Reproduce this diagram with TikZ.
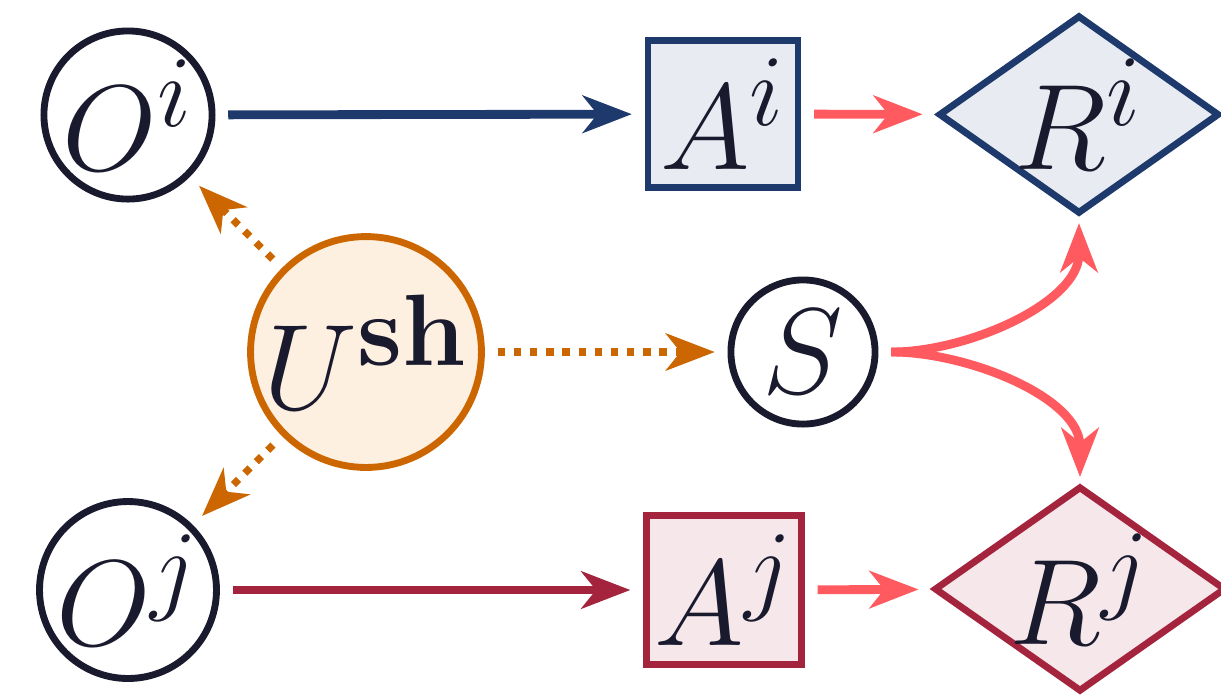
\documentclass[tikz,border=0pt]{standalone}
\usetikzlibrary{arrows.meta,shapes.geometric}

\definecolor{ink}{RGB}{26,26,46}
\definecolor{navy}{RGB}{30,58,108}
\definecolor{navyfill}{RGB}{232,236,242}
\definecolor{crimson}{RGB}{164,35,61}
\definecolor{crimsonfill}{RGB}{245,231,234}
\definecolor{coral}{RGB}{255,90,95}
\definecolor{amber}{RGB}{204,102,0}
\definecolor{amberfill}{RGB}{254,240,224}

\begin{document}
\begin{tikzpicture}[x=0.204pt,y=-0.204pt,
  font=\Huge, text=ink,
  >={Stealth[length=10pt,width=7.6pt,inset=3pt]},
  base/.style={inner sep=-3pt, line width=1.4pt},
  obs/.style={base, circle, draw=ink},
  shared/.style={base, circle, draw=amber, fill=amberfill},
  actbox/.style={base, rectangle, inner sep=0pt},
  rew/.style={base, diamond, inner sep=-5pt},
  flow/.style={->, line width=1.8pt, shorten <=2.6pt, shorten >=2.6pt},
  influence/.style={->, amber, line width=1.5pt, dash pattern=on 1.5pt off 1.8pt,
                    shorten <=2.6pt, shorten >=2.6pt}
]
\useasboundingbox (0,0) rectangle (1221,695);

% observations, shared latent, state
\node[obs, minimum size=34.3pt] (Oi) at (128,115) {$O^i$};
\node[obs, minimum size=36.1pt] (Oj) at (128,590) {$O^j$};
\node[shared, minimum size=47.1pt] (U) at (366,352) {$U^{\mathbf{sh}}$};
\node[obs, minimum size=29.4pt] (S) at (803,352) {$S$};

% actions
\node[actbox, draw=navy, fill=navyfill, minimum width=30.6pt, minimum height=30pt]
  (Ai) at (723,114) {$A^i$};
\node[actbox, draw=crimson, fill=crimsonfill, minimum width=31.6pt, minimum height=30.4pt]
  (Aj) at (724,590) {$A^j$};

% rewards
\node[rew, draw=navy, fill=navyfill, minimum width=57.3pt, minimum height=40.5pt]
  (Ri) at (1079,114.5) {$R^i$};
\node[rew, draw=crimson, fill=crimsonfill, minimum width=59.5pt, minimum height=41.9pt]
  (Rj) at (1080,589) {$R^j$};

% policy arrows
\draw[flow, navy] (Oi) -- (Ai);
\draw[flow, crimson] (Oj) -- (Aj);
\draw[flow, coral] (Ai) -- (Ri);
\draw[flow, coral] (Aj) -- (Rj);

% state to rewards
\draw[flow, coral, shorten >=1.2pt] (S.east) .. controls +(90,0) and +(0,85) .. (Ri.south);
\draw[flow, coral, shorten >=1.2pt] (S.east) .. controls +(90,0) and +(0,-85) .. (Rj.north);

% shared influence
\draw[influence] (U) -- (Oi);
\draw[influence] (U) -- (Oj);
\draw[influence] (U) -- (S);
\end{tikzpicture}
\end{document}
